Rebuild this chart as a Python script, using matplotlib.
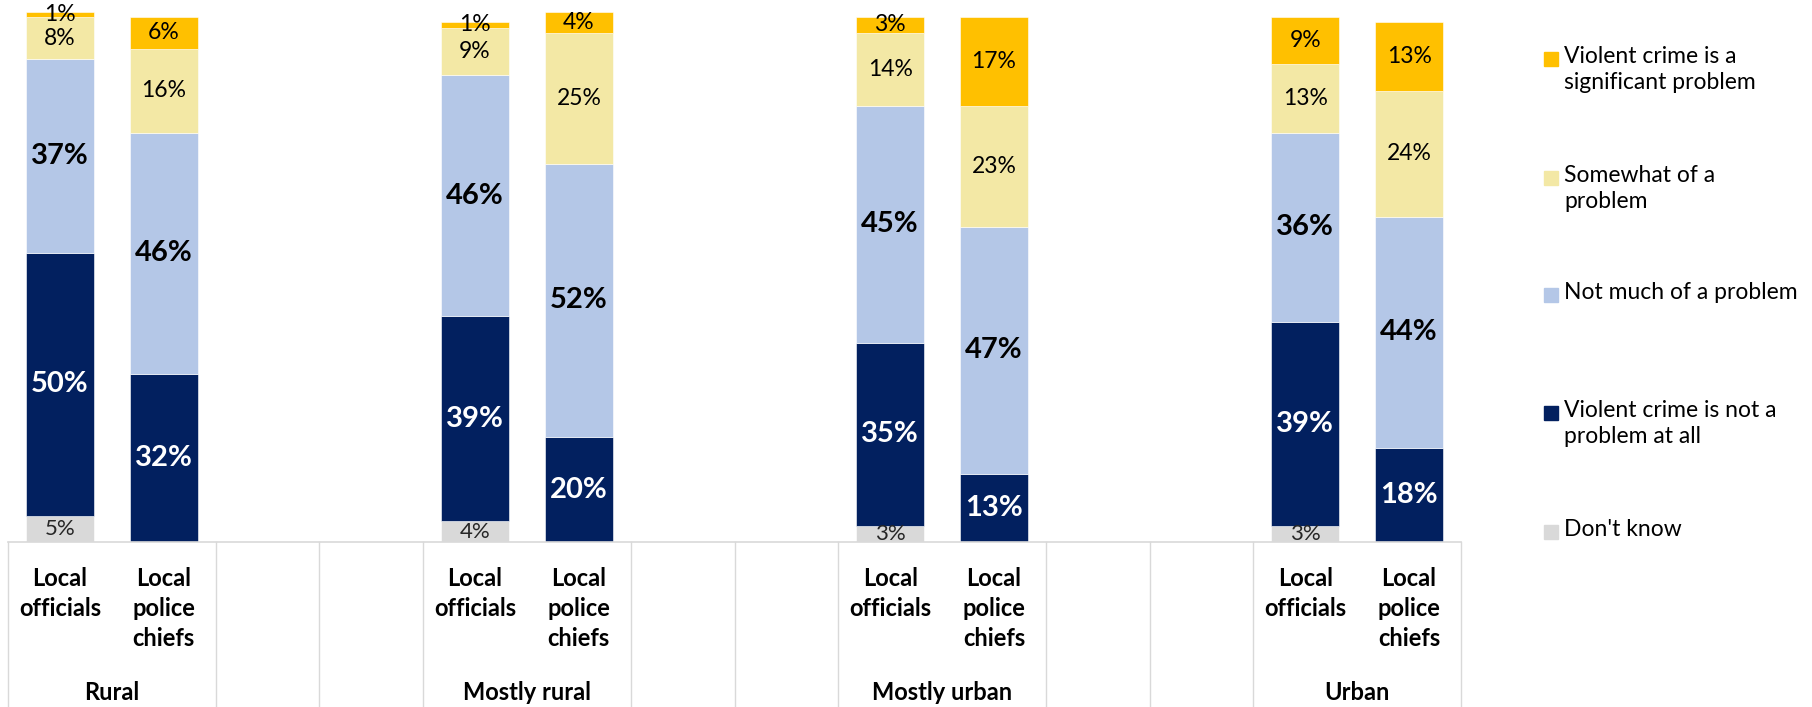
"""Stacked bars: views on violent crime by community type."""
import matplotlib

matplotlib.use("Agg")
import matplotlib.pyplot as plt
from matplotlib.patches import Rectangle
import numpy as np

plt.rcParams["font.family"] = ["Lato", "DejaVu Sans"]

groups = ["Rural", "Mostly rural", "Mostly urban", "Urban"]
respondents = ["Local\nofficials", "Local\npolice\nchiefs"]

# bottom -> top stacking order
series = ["Don't know",
          "Violent crime is not a\nproblem at all",
          "Not much of a problem",
          "Somewhat of a\nproblem",
          "Violent crime is a\nsignificant problem"]
colors = ["#D9D9D9", "#02205F", "#B4C7E7", "#F3E8A5", "#FFC000"]

# one value per bar: Rural off, Rural chiefs, Mostly rural off, ..., Urban chiefs
dont_know   = [5, 0, 4, 0, 3, 0, 3, 0]
not_at_all  = [50, 32, 39, 20, 35, 13, 39, 18]
not_much    = [37, 46, 46, 52, 45, 47, 36, 44]
somewhat    = [8, 16, 9, 25, 14, 23, 13, 24]
significant = [1, 6, 1, 4, 3, 17, 9, 13]
values = [dont_know, not_at_all, not_much, somewhat, significant]

# label style per series: (colour, bold, size)
label_style = [("#262626", False, 16), ("white", True, 21),
               ("black", True, 21), ("black", False, 16.5), ("black", False, 16.5)]

W, H = 1812, 707
fig = plt.figure(figsize=(W / 100, H / 100), dpi=100)
ax_left, ax_right, base_y = 8, 1461, 542
ax = fig.add_axes([ax_left / W, (H - base_y) / H, (ax_right - ax_left) / W, base_y / H])

slots_per_group = 4
n_slots = slots_per_group * len(groups) - 2
slot_x = np.array([g * slots_per_group + j + 0.5
                   for g in range(len(groups)) for j in range(len(respondents))])

bottom = np.zeros(len(slot_x))
for vals, col, (tc, bold, fs) in zip(values, colors, label_style):
    v = np.array(vals, dtype=float)
    ax.bar(slot_x, v, bottom=bottom, width=0.655, color=col,
           edgecolor="white", linewidth=0.4)
    for x, b, h in zip(slot_x, bottom, v):
        if h > 0:
            ax.text(x, b + h / 2, f"{h:.0f}%", ha="center", va="center",
                    color=tc, fontsize=fs, fontweight="bold" if bold else "normal")
    bottom += v

ax.set_xlim(0, n_slots)
ax.set_ylim(0, base_y / 5.25)
ax.axis("off")

# category axis: baseline, separators, two label levels
line_col = "#D9D9D9"
ax.plot([0, n_slots], [0, 0], color=line_col, lw=1.2, clip_on=False)
low = -(H - base_y) / base_y
seps = sorted({0, n_slots} | {g * slots_per_group + k
                              for g in range(len(groups)) for k in (2, 3, 4)
                              if g * slots_per_group + k < n_slots})
for s in seps:
    ax.plot([s, s], [0, low], color=line_col, lw=1.0, clip_on=False,
            transform=ax.get_xaxis_transform())

for i, x in enumerate(slot_x):
    ax.text(x, -25 / base_y, respondents[i % 2], transform=ax.get_xaxis_transform(),
            ha="center", va="top", fontsize=17, fontweight="bold", linespacing=1.38)
for g, name in enumerate(groups):
    ax.text(g * slots_per_group + 1, -151 / base_y, name,
            transform=ax.get_xaxis_transform(), ha="center", va="center",
            fontsize=17, fontweight="bold")

# legend, marker aligned with first text line like the original
leg_y = [59, 178, 295, 413, 532]
for name, col, y in zip(series[::-1], colors[::-1], leg_y):
    fig.patches.append(Rectangle((1544 / W, (H - y - 7) / H), 14 / W, 14 / H,
                                 transform=fig.transFigure, color=col))
    fig.text(1564 / W, (H - y + 13) / H, name, ha="left", va="top",
             fontsize=16.5, linespacing=1.3)

fig.savefig("out.png", dpi=100)
